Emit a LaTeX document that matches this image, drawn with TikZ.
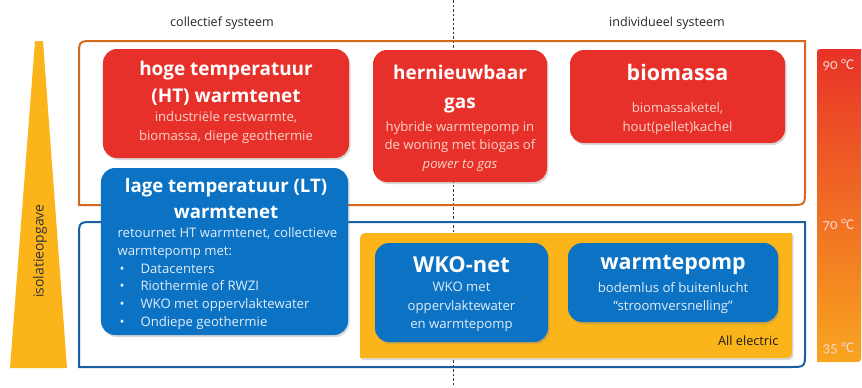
\documentclass[tikz,border=0pt]{standalone}
\usepackage{fontspec}
\setmainfont{Open Sans}
\newfontfamily\tempfont[Numbers=OldStyle]{Carlito}
\usetikzlibrary{shadows}
\definecolor{htred}{HTML}{E8302A}
\definecolor{ltblue}{HTML}{0B72C4}
\definecolor{elyellow}{HTML}{FBB41A}
\definecolor{frameorange}{HTML}{D2691E}
\definecolor{frameblue}{HTML}{1A5EA6}
\definecolor{subred}{HTML}{FAD3CA}
\definecolor{subblue}{HTML}{E2EDF8}
\definecolor{tempred}{HTML}{E83228}
\definecolor{temporange}{HTML}{F2622A}
\definecolor{tempyellow}{HTML}{F8A51F}

\begin{document}
\begin{tikzpicture}[x=1bp,y=-1bp,
  boxshadow/.style={drop shadow={opacity=0.3,shadow xshift=1.5bp,shadow yshift=-2bp}},
  redbox/.style={fill=htred,rounded corners=14bp,inner sep=0pt,boxshadow},
  bluebox/.style={fill=ltblue,rounded corners=14bp,inner sep=0pt,boxshadow},
  boxtitle/.style={text=white,align=center,font=\fontsize{#1}{27}\selectfont\bfseries},
  boxtitle/.default=19,
  boxsub/.style={align=center,font=\fontsize{13.2}{18.5}\selectfont},
  hdr/.style={font=\fontsize{12.6}{15}\selectfont,text=black!85},
  templabel/.style={anchor=west,text=subred,font=\tempfont\fontsize{15}{17}\selectfont}]
\useasboundingbox (0,0) rectangle (862,387);

% headers and divider
\node[hdr] (coll) at (222,23) {collectief systeem};
\node[hdr] (indiv) at (667,23) {individueel systeem};
\draw[black!80,dash pattern=on 2.5bp off 2bp,line width=0.9bp] (453,0) -- (453,387);

% isolatieopgave
\fill[elyellow] (35,41) -- (43,41) -- (67,368) -- (10,368) -- cycle;
\node[rotate=90,text=black!80,font=\fontsize{14}{16}\selectfont] (iso) at (40,251) {isolatieopgave};

% frames
\draw[frameorange,line width=2bp] (79,205) -- (79,56) .. controls (79,41) .. (94,41)
  -- (805,41) -- (805,190) .. controls (805,205) .. (790,205) -- cycle;
\draw[frameblue,line width=2bp] (79,367) -- (79,237) .. controls (79,222) .. (94,222)
  -- (805,222) -- (805,352) .. controls (805,367) .. (790,367) -- cycle;

% temperature bar
\shade[top color=tempred,middle color=temporange,bottom color=tempyellow]
  (817,362) -- (817,56) .. controls (817,49) .. (824,49) -- (861,49)
  -- (861,355) .. controls (861,362) .. (854,362) -- cycle;
\node[templabel] (t90) at (819,65) {90 °C};
\node[templabel] (t70) at (819,225) {70 °C};
\node[templabel] (t35) at (819,348) {35 °C};

% high temperature
\node[redbox,minimum width=246bp,minimum height=109bp] (ht) at (226,103.5) {};
\node[boxtitle] (httitle) at (226,83.5) {hoge temperatuur\\(HT) warmtenet};
\node[boxsub,text=subred] (htsub) at (226,127.5) {industriële restwarmte,\\biomassa,\ diepe geothermie};

\node[redbox,minimum width=174bp,minimum height=132bp] (gas) at (460,116) {};
\node[boxtitle,font=\fontsize{19}{29}\selectfont\bfseries] (gastitle) at (460,89) {hernieuwbaar\\gas};
\node[boxsub,text=subred] (gassub) at (460,146.5) {hybride warmtepomp in\\de woning met biogas of\\\textit{power to gas}};

\node[redbox,minimum width=215bp,minimum height=93bp] (bio) at (677.5,96.5) {};
\node[boxtitle=21.5] (biotitle) at (677.5,72) {biomassa};
\node[boxsub,text=subred] (biosub) at (677.5,118.5) {biomassaketel,\\hout(pellet)kachel};

% low temperature
\node[bluebox,minimum width=247bp,minimum height=167bp] (lt) at (224.5,251.5) {};
\node[boxtitle=18.7] (lttitle) at (226,198.5) {lage temperatuur (LT)\\warmtenet};
\node[boxsub,align=left,anchor=west,text=subblue,font=\fontsize{13.2}{17.8}\selectfont] (ltsub) at (114,278.5)
  {retournet HT warmtenet, collectieve\\warmtepomp met:\\
   \makebox[23bp][l]{\,•}Datacenters\\
   \makebox[23bp][l]{\,•}Riothermie of RWZI\\
   \makebox[23bp][l]{\,•}WKO met oppervlaktewater\\
   \makebox[23bp][l]{\,•}Ondiepe geothermie};

% all electric
\fill[elyellow,boxshadow] (360,358) -- (360,245) .. controls (360,233) .. (372,233)
  -- (792,233) -- (792,346) .. controls (792,358) .. (780,358) -- cycle;
\node[bluebox,minimum width=173bp,minimum height=99bp] (wko) at (461.5,292.5) {};
\node[boxtitle=22] (wkotitle) at (461.5,265) {WKO-net};
\node[boxsub,text=subblue] (wkosub) at (461.5,307) {WKO met\\oppervlaktewater\\en warmtepomp};

\node[bluebox,minimum width=210bp,minimum height=79bp] (wp) at (673,282.5) {};
\node[boxtitle=21.5] (wptitle) at (673,265) {warmtepomp};
\node[boxsub,text=subblue] (wpsub) at (673,298) {bodemlus of buitenlucht\\“stroomversnelling”};

\node[anchor=east,text=black!90,font=\fontsize{12.8}{15}\selectfont] (allel) at (782,341) {All electric};
\end{tikzpicture}
\end{document}
